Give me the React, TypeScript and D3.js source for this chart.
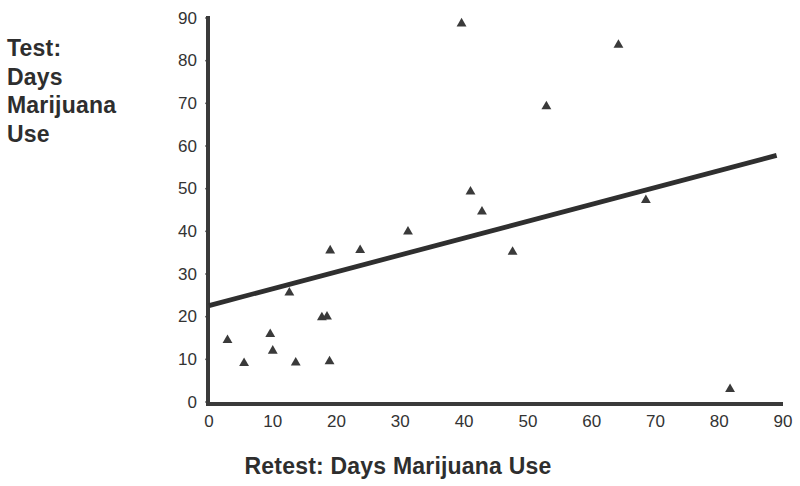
import React from "react";
import * as d3 from "d3";

const retestDays = [2.9, 5.5, 9.6, 10.0, 12.6, 13.6, 17.7, 18.5, 18.9, 19.0, 23.7, 31.2, 39.6, 41.0, 42.8, 47.6, 52.9, 64.2, 68.5, 81.7];
const testDays = [14.5, 9.1, 15.9, 12.0, 25.6, 9.2, 19.8, 20.0, 9.5, 35.5, 35.6, 39.9, 88.7, 49.3, 44.6, 35.2, 69.3, 83.7, 47.3, 3.0];
const fitX = [0, 89];
const fitY = [22.6, 57.8];
const tickValues = [0, 10, 20, 30, 40, 50, 60, 70, 80, 90];
const yTitleLines = ["Test:", "Days", "Marijuana", "Use"];
const xTitle = "Retest: Days Marijuana Use";

const W = 800;
const H = 486;
const INK = "#333333";
const FONT = "'Liberation Sans', Arial, Helvetica, sans-serif";

export default function App() {
  const x = d3.scaleLinear().domain([0, 90]).range([209, 783]);
  const y = d3.scaleLinear().domain([0, 90]).range([402, 18]);
  const tri = d3.symbol().type(d3.symbolTriangle).size(42)();
  const line = d3
    .line<number>()
    .x((_, i) => x(fitX[i]))
    .y((_, i) => y(fitY[i]))(fitX);

  return (
    <div style={{ position: "absolute", left: 0, top: 0 }}>
      <svg width={W} height={H} viewBox={`0 0 ${W} ${H}`} style={{ display: "block", background: "#fff" }}>
        {/* y axis title */}
        <g fontFamily={FONT} fontWeight="bold" fontSize={23} fill="#2e2e2e">
          {yTitleLines.map((t, i) => (
            <text key={t} x={7} y={56 + i * 28.6} letterSpacing={0.2}>
              {t}
            </text>
          ))}
        </g>
        {/* x axis title */}
        <text
          x={398}
          y={474}
          textAnchor="middle"
          fontFamily={FONT}
          fontWeight="bold"
          fontSize={23}
          fill="#2e2e2e"
          letterSpacing={0.2}
        >
          {xTitle}
        </text>

        {/* ticks */}
        <g fontFamily={FONT} fontSize={17} fill={INK}>
          {tickValues.map((v) => (
            <g key={"y" + v}>
              <line x1={x(0) - 4} x2={x(0)} y1={y(v)} y2={y(v)} stroke="#777" strokeWidth={1.5} />
              <text x={197} y={y(v)} textAnchor="end" dominantBaseline="central">
                {v}
              </text>
            </g>
          ))}
          {tickValues.map((v) => (
            <text key={"x" + v} x={x(v)} y={427} textAnchor="middle">
              {v}
            </text>
          ))}
        </g>

        {/* axes */}
        <line x1={x(0) - 1} x2={x(0) - 1} y1={y(90) - 2} y2={y(0) + 2} stroke="#3a3a3a" strokeWidth={4} />
        <line x1={x(0) - 3} x2={x(90)} y1={y(0) + 2} y2={y(0) + 2} stroke="#3a3a3a" strokeWidth={4} />

        {/* regression line */}
        <path d={line || ""} fill="none" stroke="#2f2f2f" strokeWidth={4.8} />

        {/* points */}
        <g fill="#3a3a3a">
          {retestDays.map((v, i) => (
            <path key={i} d={tri || ""} transform={`translate(${x(v)},${y(testDays[i])})`} />
          ))}
        </g>
      </svg>
    </div>
  );
}
